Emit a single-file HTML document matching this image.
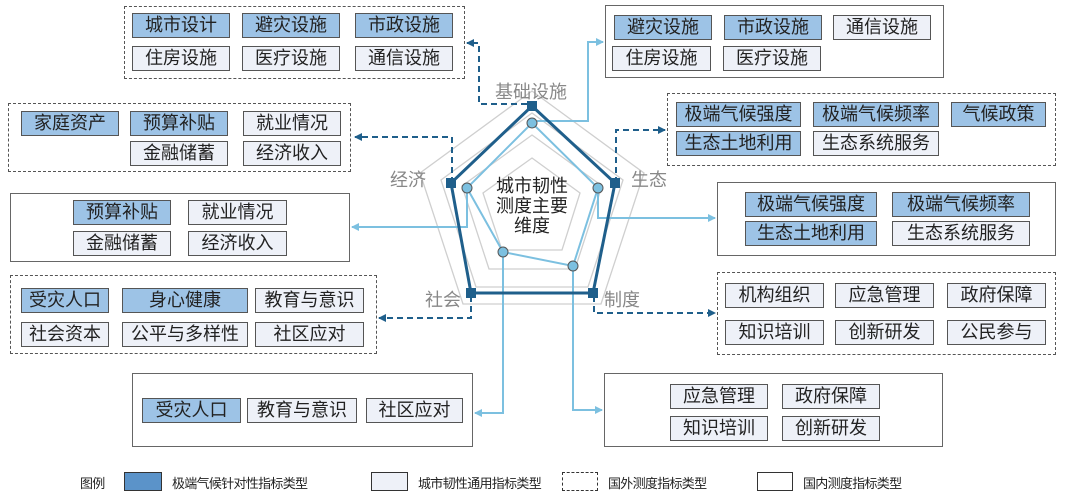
<!DOCTYPE html>
<html><head><meta charset="utf-8"><style>
body{margin:0;width:1066px;height:496px;background:#fff;position:relative;overflow:hidden;font-family:"Liberation Sans","Noto Sans CJK SC",sans-serif;}
.c{position:absolute;box-sizing:border-box;border:1.5px solid #666;}
.d{border:1.5px dashed #555;}
.i{position:absolute;box-sizing:border-box;border:1.5px solid #555;height:25px;font-size:18px;line-height:22px;text-align:center;color:#222;background:#eef1f8;white-space:nowrap;}
.b{background:#9dc3e6;}
.l{position:absolute;font-size:18px;color:#888;}
.g{position:absolute;font-size:13px;letter-spacing:-0.7px;color:#222;top:473px;white-space:nowrap;}
svg{position:absolute;left:0;top:0;}
</style></head><body>
<svg width="1066" height="496">
<defs>
<marker id="ad" markerWidth="8" markerHeight="8" refX="7" refY="4" orient="auto" markerUnits="userSpaceOnUse"><path d="M0,0L8,4L0,8z" fill="#1f5f8b"/></marker>
<marker id="al" markerWidth="8" markerHeight="8" refX="7" refY="4" orient="auto" markerUnits="userSpaceOnUse"><path d="M0,0L8,4L0,8z" fill="#7cc0e0"/></marker>
</defs>
<g fill="none" stroke="#cfcfcf" stroke-width="1.3">
<polygon points="532,91 644,173 601,304 463,304 420,173"/>
<polygon points="532,113 623,180 588,287 476,287 441,180"/>
<polygon points="532,135 602,186 575,269 489,269 462,186"/>
<polygon points="532,158 580,193 562,250 502,250 483,193"/>
</g>
<g fill="none" stroke-width="2" stroke-dasharray="6,4" stroke="#1f5f8b">
<path d="M527,104H479V43H467" marker-end="url(#ad)"/>
<path d="M616,183V130H665" marker-end="url(#ad)"/>
<path d="M452,183V137H355" marker-end="url(#ad)"/>
<path d="M471,296V318H379" marker-end="url(#ad)"/>
<path d="M594,296V313H715" marker-end="url(#ad)"/>
</g>
<g fill="none" stroke-width="2" stroke="#7cc0e0">
<path d="M537,121H588V42H603" marker-end="url(#al)"/>
<path d="M598,188V218H715" marker-end="url(#al)"/>
<path d="M467,188V227H352" marker-end="url(#al)"/>
<path d="M503,252V413H475" marker-end="url(#al)"/>
<path d="M573,266V410H602" marker-end="url(#al)"/>
<polygon points="532,123 598,188 573,266 503,252 467,188"/>
</g>
<polygon points="532,106 615,183 593,293 471,293 451,183" fill="none" stroke="#1f5f8b" stroke-width="3"/>
<g fill="#1f5f8b">
<rect x="527" y="101" width="10" height="10"/><rect x="610" y="178" width="10" height="10"/>
<rect x="446" y="178" width="10" height="10"/><rect x="466" y="288" width="10" height="10"/>
<rect x="588" y="288" width="10" height="10"/>
</g>
<g fill="#7cc0e0" stroke="#555" stroke-width="1">
<circle cx="532" cy="123" r="5"/><circle cx="598" cy="188" r="5"/><circle cx="573" cy="266" r="5"/>
<circle cx="503" cy="252" r="5"/><circle cx="467" cy="188" r="5"/>
</g>
</svg>
<div class="l" style="left:495px;top:78px">基础设施</div>
<div class="l" style="left:390px;top:166px">经济</div>
<div class="l" style="left:631px;top:166px">生态</div>
<div class="l" style="left:425px;top:286px">社会</div>
<div class="l" style="left:604px;top:286px">制度</div>
<div style="position:absolute;left:482px;top:176px;width:100px;text-align:center;font-size:18px;line-height:20px;color:#222">城市韧性<br>测度主要<br>维度</div>

<div class="c d" style="left:124px;top:6px;width:341px;height:73px"></div>
<div class="i b" style="left:132px;top:13px;width:98px">城市设计</div>
<div class="i b" style="left:242px;top:13px;width:98px">避灾设施</div>
<div class="i b" style="left:355px;top:13px;width:98px">市政设施</div>
<div class="i" style="left:132px;top:46px;width:98px">住房设施</div>
<div class="i" style="left:242px;top:46px;width:98px">医疗设施</div>
<div class="i" style="left:355px;top:46px;width:98px">通信设施</div>

<div class="c" style="left:605px;top:5px;width:339px;height:73px"></div>
<div class="i b" style="left:614px;top:15px;width:98px">避灾设施</div>
<div class="i b" style="left:724px;top:15px;width:98px">市政设施</div>
<div class="i" style="left:833px;top:15px;width:98px">通信设施</div>
<div class="i" style="left:612px;top:46px;width:99px">住房设施</div>
<div class="i" style="left:723px;top:46px;width:98px">医疗设施</div>

<div class="c d" style="left:8px;top:103px;width:343px;height:69px"></div>
<div class="i b" style="left:21px;top:111px;width:98px">家庭资产</div>
<div class="i b" style="left:130px;top:111px;width:98px">预算补贴</div>
<div class="i" style="left:243px;top:111px;width:98px">就业情况</div>
<div class="i" style="left:130px;top:141px;width:98px">金融储蓄</div>
<div class="i" style="left:243px;top:141px;width:98px">经济收入</div>

<div class="c d" style="left:667px;top:93px;width:389px;height:73px"></div>
<div class="i b" style="left:676px;top:102px;width:125px">极端气候强度</div>
<div class="i b" style="left:813px;top:102px;width:126px">极端气候频率</div>
<div class="i b" style="left:951px;top:102px;width:95px">气候政策</div>
<div class="i b" style="left:676px;top:131px;width:125px">生态土地利用</div>
<div class="i" style="left:813px;top:131px;width:126px">生态系统服务</div>

<div class="c" style="left:10px;top:193px;width:340px;height:69px"></div>
<div class="i b" style="left:73px;top:200px;width:98px">预算补贴</div>
<div class="i" style="left:188px;top:200px;width:99px">就业情况</div>
<div class="i" style="left:73px;top:231px;width:98px">金融储蓄</div>
<div class="i" style="left:188px;top:231px;width:99px">经济收入</div>

<div class="c" style="left:717px;top:182px;width:339px;height:74px"></div>
<div class="i b" style="left:745px;top:192px;width:132px">极端气候强度</div>
<div class="i b" style="left:892px;top:192px;width:138px">极端气候频率</div>
<div class="i b" style="left:745px;top:221px;width:132px">生态土地利用</div>
<div class="i" style="left:892px;top:221px;width:138px">生态系统服务</div>

<div class="c d" style="left:10px;top:275px;width:367px;height:79px"></div>
<div class="i b" style="left:21px;top:288px;width:88px">受灾人口</div>
<div class="i b" style="left:122px;top:288px;width:126px">身心健康</div>
<div class="i" style="left:255px;top:288px;width:109px">教育与意识</div>
<div class="i" style="left:21px;top:322px;width:88px">社会资本</div>
<div class="i" style="left:122px;top:322px;width:126px">公平与多样性</div>
<div class="i" style="left:255px;top:322px;width:109px">社区应对</div>

<div class="c d" style="left:717px;top:272px;width:339px;height:83px"></div>
<div class="i" style="left:725px;top:283px;width:99px">机构组织</div>
<div class="i" style="left:835px;top:283px;width:99px">应急管理</div>
<div class="i" style="left:947px;top:283px;width:99px">政府保障</div>
<div class="i" style="left:725px;top:320px;width:99px">知识培训</div>
<div class="i" style="left:835px;top:320px;width:99px">创新研发</div>
<div class="i" style="left:947px;top:320px;width:99px">公民参与</div>

<div class="c" style="left:132px;top:373px;width:341px;height:74px"></div>
<div class="i b" style="left:142px;top:398px;width:99px">受灾人口</div>
<div class="i" style="left:247px;top:398px;width:110px">教育与意识</div>
<div class="i" style="left:366px;top:398px;width:97px">社区应对</div>

<div class="c" style="left:604px;top:373px;width:339px;height:74px"></div>
<div class="i" style="left:670px;top:384px;width:98px">应急管理</div>
<div class="i" style="left:782px;top:384px;width:98px">政府保障</div>
<div class="i" style="left:670px;top:416px;width:98px">知识培训</div>
<div class="i" style="left:782px;top:416px;width:98px">创新研发</div>

<div class="g" style="left:80px">图例</div>
<div style="position:absolute;left:124px;top:472px;width:38px;height:19px;box-sizing:border-box;border:1.5px solid #333;background:#5b93c9"></div>
<div class="g" style="left:172px">极端气候针对性指标类型</div>
<div style="position:absolute;left:371px;top:472px;width:37px;height:19px;box-sizing:border-box;border:1.5px solid #333;background:#eef1f8"></div>
<div class="g" style="left:418px">城市韧性通用指标类型</div>
<div style="position:absolute;left:562px;top:472px;width:36px;height:19px;box-sizing:border-box;border:1.5px dashed #333"></div>
<div class="g" style="left:608px">国外测度指标类型</div>
<div style="position:absolute;left:757px;top:472px;width:36px;height:19px;box-sizing:border-box;border:1.5px solid #333"></div>
<div class="g" style="left:803px">国内测度指标类型</div>
</body></html>
